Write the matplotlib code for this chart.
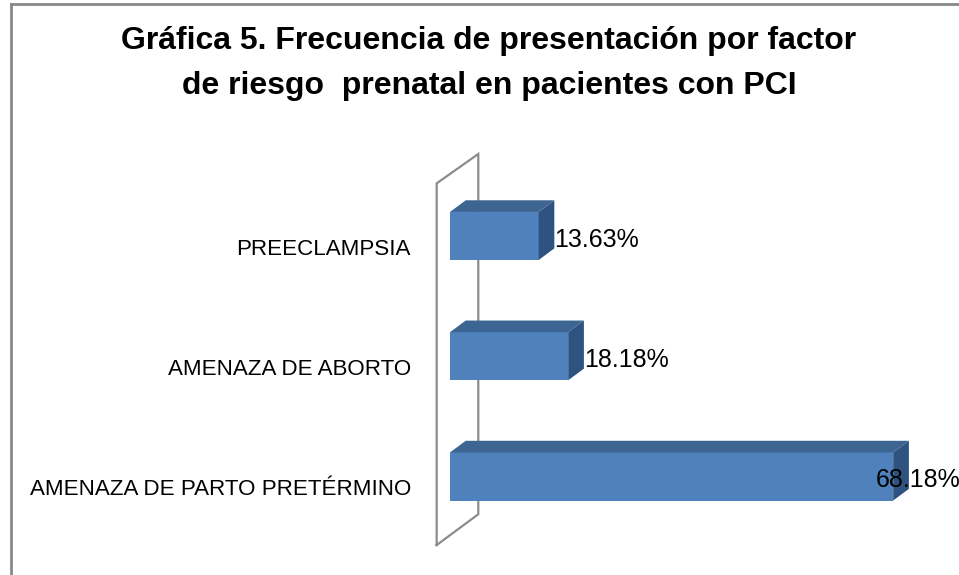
import matplotlib
matplotlib.use("Agg")
import matplotlib.pyplot as plt
import matplotlib.patches as mpatches
import numpy as np

categorias = ["AMENAZA DE PARTO PRETÉRMINO", "AMENAZA DE ABORTO", "PREECLAMPSIA"]
valores = [68.18, 18.18, 13.63]
etiquetas = ["68.18%", "18.18%", "13.63%"]
titulo = ["Gráfica 5. Frecuencia de presentación por factor",
          "de riesgo  prenatal en pacientes con PCI"]

plt.rcParams['font.family'] = ['Liberation Sans', 'DejaVu Sans']

W, H = 959, 575
fig = plt.figure(figsize=(W / 100, H / 100), dpi=100)
ax = fig.add_axes([0, 0, 1, 1])
# escala: 6.5 px por %, 120.25 px por categoria
px_x, px_y = 6.5, 120.25
x0, y0 = 450, 476.5
ax.set_xlim(-x0 / px_x, (W - x0) / px_x)
ax.set_ylim(-(H - y0) / px_y, y0 / px_y)
ax.axis("off")

# borde del area del grafico
fig.add_artist(plt.Line2D([10.5 / W, 10.5 / W], [0, 1 - 3.5 / H], color="#888888", lw=2))
fig.add_artist(plt.Line2D([10.5 / W, 1], [1 - 3.5 / H, 1 - 3.5 / H], color="#888888", lw=2))

# pared de fondo (3D)
fx, bx = -2.05, 4.35
pared = [(fx, -0.57), (fx, 2.438), (bx, 2.682), (bx, -0.314), (fx, -0.57)]
px, py = zip(*pared)
ax.plot(px, py, color="#8c8c8c", lw=1.6, solid_joinstyle="miter")

# barras 3D
h = 0.4
dx, dy = 2.42, 0.097
for i, v in enumerate(valores):
    yb, yt = i - h / 2, i + h / 2
    frente = mpatches.Polygon([(0, yb), (v, yb), (v, yt), (0, yt)], closed=True,
                              fc="#4F81BD", ec="none", zorder=3)
    techo = mpatches.Polygon([(0, yt), (v, yt), (v + dx, yt + dy), (dx, yt + dy)], closed=True,
                             fc="#3D6592", ec="none", zorder=3)
    lado = mpatches.Polygon([(v, yb), (v + dx, yb + dy), (v + dx, yt + dy), (v, yt)], closed=True,
                            fc="#2F5381", ec="none", zorder=3)
    for p in (frente, techo, lado):
        ax.add_patch(p)
    xt = v + dx if v < 60 else v - 2.7
    ax.text(xt, i - 0.09, etiquetas[i], fontsize=18, color="black", ha="left",
            va="baseline", zorder=4)
    ax.text(-39 / px_x, i - 0.155, categorias[i], fontsize=16.1, color="black", ha="right",
            va="baseline")

fig.text(489 / W, 1 - 49.3 / H, titulo[0], fontsize=23, fontweight="bold", ha="center",
         va="baseline")
fig.text(489 / W, 1 - 94.3 / H, titulo[1], fontsize=23, fontweight="bold", ha="center",
         va="baseline")

fig.savefig("out.png", dpi=100)
